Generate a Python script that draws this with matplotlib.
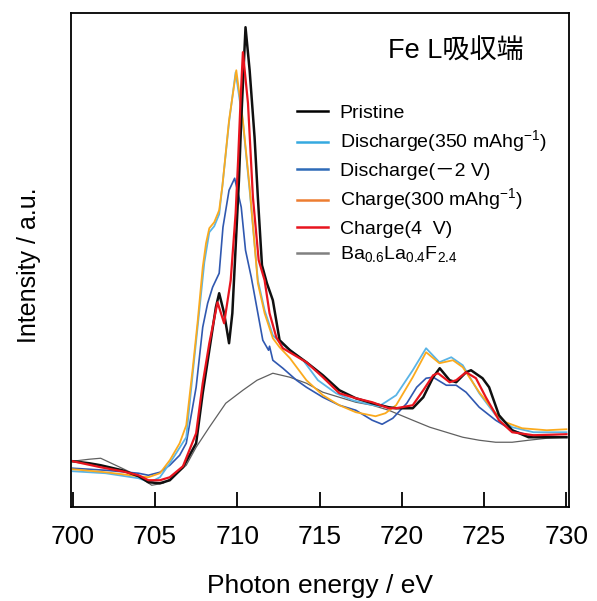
import matplotlib
matplotlib.use('Agg')
import matplotlib.pyplot as plt
from matplotlib.lines import Line2D

plt.rcParams['font.family'] = ['Liberation Sans', 'Noto Sans CJK JP', 'DejaVu Sans']
plt.rcParams['mathtext.fontset'] = 'custom'
plt.rcParams['mathtext.rm'] = 'Liberation Sans'

# Fe L-edge XAS spectra (arbitrary intensity units)
e_pristine = [700.0, 701.0, 701.7, 703.0, 704.0, 704.6, 705.3, 705.9, 706.7, 707.5, 707.9, 708.3, 708.7, 708.9,
              709.2, 709.5, 709.7, 709.9, 710.1, 710.24, 710.5, 710.75, 711.05, 711.25, 711.5, 711.8, 712.16,
              712.57, 713.2, 714.2, 715.2, 716.2, 717.2, 718.2, 719.2, 719.65, 720.66, 721.3, 721.9, 722.3,
              722.9, 723.3, 723.9, 724.2, 724.9, 725.3, 725.9, 726.7, 727.7, 730.0]
i_pristine = [9.2, 8.8, 8.4, 7.4, 6.2, 5.0, 4.8, 5.4, 8.0, 12.8, 22.8, 31.4, 40.0, 42.8,
              38.8, 32.8, 38.8, 52.0, 65.4, 77.4, 96.0, 87.4, 74.0, 62.0, 48.4, 44.8, 41.4,
              33.4, 31.4, 29.0, 26.4, 23.4, 21.8, 20.8, 20.0, 19.8, 19.8, 22.0, 26.0, 27.8,
              25.4, 25.0, 27.0, 27.4, 25.8, 24.0, 18.4, 15.4, 14.0, 14.0]

e_dis350 = [700.0, 702.0, 704.0, 704.7, 705.3, 705.9, 706.9, 707.3, 707.6, 708.0, 708.3, 708.6, 708.9, 709.1,
            709.5, 709.9, 710.34, 710.75, 711.25, 711.66, 712.16, 712.57, 713.0, 714.0, 714.9, 716.0, 717.0,
            718.0, 718.6, 719.0, 719.65, 720.66, 721.47, 722.28, 723.0, 723.7, 724.7, 725.7, 726.7, 728.0, 730.0]
i_dis350 = [7.2, 6.8, 5.8, 5.0, 6.0, 8.8, 14.0, 27.0, 36.4, 49.0, 55.0, 56.2, 58.6, 64.4,
            77.0, 87.0, 77.0, 63.4, 45.4, 39.4, 34.4, 33.0, 32.0, 29.4, 25.4, 22.8, 21.4,
            20.6, 20.2, 21.0, 22.4, 27.4, 31.8, 29.0, 30.0, 28.4, 22.8, 18.4, 16.0, 15.0, 15.0]

e_dis2v = [700.0, 702.0, 704.0, 704.6, 705.3, 705.9, 706.5, 706.9, 707.5, 707.9, 708.2, 708.5, 708.9, 709.13,
           709.5, 709.84, 710.24, 710.5, 710.85, 711.25, 711.55, 711.9, 711.96, 712.16, 712.77, 713.6, 714.2,
           715.2, 716.2, 717.2, 718.2, 718.8, 719.45, 720.3, 720.9, 721.47, 721.9, 722.7, 723.3, 723.9,
           724.7, 725.7, 726.7, 727.7, 730.0]
i_dis2v = [7.8, 7.4, 6.8, 6.4, 7.0, 8.4, 10.4, 12.8, 24.0, 36.0, 40.8, 44.0, 46.8, 56.0,
           63.4, 65.8, 60.0, 51.4, 46.0, 38.8, 33.4, 31.4, 32.2, 29.4, 27.8, 25.4, 24.0,
           22.0, 20.4, 19.4, 17.4, 16.6, 17.8, 20.8, 24.0, 25.8, 26.0, 24.4, 24.4, 23.0,
           20.0, 17.4, 15.4, 14.4, 14.0]

e_chg300 = [700.0, 702.0, 704.0, 704.6, 705.3, 705.9, 706.5, 706.9, 707.3, 707.6, 707.9, 708.1, 708.3, 708.6,
            708.9, 709.1, 709.5, 709.94, 710.34, 710.75, 711.25, 711.66, 712.16, 712.57, 713.2, 714.2, 715.2,
            716.2, 717.2, 718.4, 719.0, 719.65, 720.66, 721.47, 722.28, 723.1, 723.7, 724.7, 725.7, 726.3,
            727.3, 728.8, 730.0]
i_chg300 = [7.6, 7.0, 6.2, 6.0, 6.8, 9.4, 12.8, 16.4, 28.0, 37.4, 48.0, 52.8, 55.8, 57.0,
            59.4, 64.4, 77.4, 87.4, 77.4, 64.0, 44.8, 38.8, 33.8, 32.0, 29.8, 25.4, 22.4,
            20.4, 19.0, 18.2, 18.8, 20.4, 26.0, 31.0, 28.8, 29.4, 28.0, 23.0, 18.8, 17.0,
            15.8, 15.4, 15.6]

e_chg4v = [700.0, 701.7, 703.0, 704.0, 704.6, 705.3, 705.9, 706.7, 707.5, 707.9, 708.3, 708.8, 709.2, 709.6,
           709.9, 710.05, 710.2, 710.34, 710.65, 710.95, 711.3, 711.66, 711.96, 712.37, 712.77, 714.2, 715.2,
           716.2, 717.2, 718.2, 719.2, 719.65, 720.66, 721.3, 721.9, 722.2, 722.9, 723.3, 723.9, 724.5,
           725.1, 725.9, 726.7, 728.0, 730.0]
i_chg4v = [9.2, 8.0, 7.2, 6.4, 5.4, 5.4, 6.0, 8.2, 14.8, 24.8, 32.8, 41.0, 36.8, 45.4,
           58.8, 69.4, 81.4, 91.0, 80.8, 62.0, 49.4, 45.4, 38.8, 34.0, 31.8, 29.0, 26.0,
           22.8, 21.8, 21.0, 19.8, 19.8, 20.4, 23.4, 26.4, 26.8, 25.0, 25.4, 27.0, 25.8,
           22.0, 17.4, 15.0, 14.4, 14.6]

e_ref = [700.0, 701.0, 701.7, 703.0, 704.0, 704.8, 705.5, 706.0, 706.9, 707.5, 708.3, 709.3, 710.34, 711.2,
         712.16, 713.2, 714.2, 715.2, 716.2, 717.2, 718.2, 719.2, 720.66, 721.7, 722.7, 723.7, 724.7,
         725.7, 726.7, 727.7, 728.8, 730.0]
i_ref = [9.2, 9.6, 9.8, 7.8, 6.2, 4.4, 4.8, 5.8, 8.4, 12.0, 16.0, 20.8, 23.4, 25.4,
         26.8, 26.0, 24.8, 23.0, 22.0, 21.0, 20.4, 19.4, 17.4, 16.0, 15.0, 14.0, 13.4,
         13.0, 13.0, 13.4, 13.8, 14.0]

labels = ['Pristine', 'Discharge(350 mAhg$^{-1}$)', 'Discharge(－2 V)', 'Charge(300 mAhg$^{-1}$)',
          'Charge(4  V)', 'Ba$_{0.6}$La$_{0.4}$F$_{2.4}$']
xticks = [700, 705, 710, 715, 720, 725, 730]

fig = plt.figure(figsize=(5.97, 6.01), dpi=100)
ax = fig.add_axes([0.119, 0.156, 0.834, 0.822])

ax.plot(e_ref, i_ref, color='#606060', lw=0.9)
ax.plot(e_dis2v, i_dis2v, color='#3058B0', lw=1.2)
ax.plot(e_dis350, i_dis350, color='#5AB4E6', lw=1.3)
ax.plot(e_chg300, i_chg300, color='#FBAA1E', lw=1.3)
ax.plot(e_pristine, i_pristine, color='#101010', lw=1.8)
ax.plot(e_chg4v, i_chg4v, color='#E8141E', lw=1.6)

ax.set_xlim(699.9, 730.15)
ax.set_ylim(0, 98.8)
ax.set_yticks([])
ax.set_xticks(xticks)
ax.set_xticklabels([str(t) for t in xticks], size=19)
ax.tick_params(axis='x', direction='in', length=11, width=1.3, pad=13)
for s in ax.spines.values():
    s.set_linewidth(1.3)

ax.set_xlabel('Photon energy / eV', size=19, va='center')
ax.xaxis.set_label_coords(0.5, -0.16)
ax.set_ylabel('Intensity / a.u.', size=18, va='center')
ax.yaxis.set_label_coords(-0.085, 0.49)

fig.text(388/597, 1 - 52/601, 'Fe L吸収端', size=19.5, va='center', ha='left',
         family=['Liberation Sans', 'Noto Sans CJK JP'])

leg_colors = ['#000000', '#35A9E0', '#2E6BB8', '#ED7D31', '#E8141E', '#808080']
handles = [Line2D([], [], color=c, lw=1.8) for c in leg_colors]
fig.legend(handles, labels, loc='upper left', bbox_to_anchor=(297 / 597, 1 - 104 / 601),
           frameon=False, fontsize=14, handlelength=1.6, handletextpad=0.6,
           labelspacing=0.36, borderpad=0, borderaxespad=0)

plt.savefig('out.png', dpi=100)
